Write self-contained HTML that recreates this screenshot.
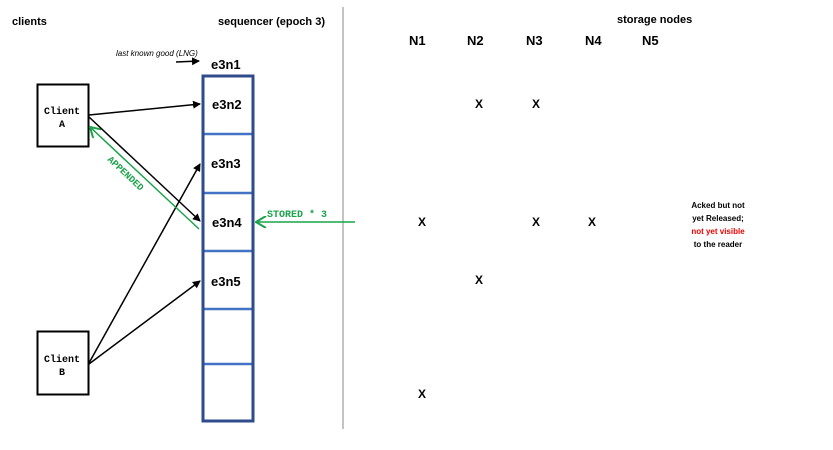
<!DOCTYPE html>
<html><head><meta charset="utf-8"><style>
html,body{margin:0;padding:0;background:#fff;width:833px;height:450px;overflow:hidden}
svg{display:block}
.s{font-family:"Liberation Sans",sans-serif;font-weight:bold}
.m{font-family:"Liberation Mono",monospace;font-weight:bold}
</style></head><body>
<svg width="833" height="450" viewBox="0 0 833 450">
<defs>
<marker id="ak" markerWidth="8" markerHeight="8" refX="7" refY="4" orient="auto" markerUnits="userSpaceOnUse"><path d="M0,0 L8,4 L0,8 z" fill="#000"/></marker>
<marker id="ag" markerWidth="12" markerHeight="12" refX="11" refY="6" orient="auto" markerUnits="userSpaceOnUse"><path d="M1,0 L11,6 L1,12" fill="none" stroke="#1aa34a" stroke-width="2"/></marker>
</defs>
<text x="12" y="25" class="s" font-size="11">clients</text>
<text x="218" y="25" class="s" font-size="11">sequencer (epoch 3)</text>
<text x="617" y="23" class="s" font-size="11">storage nodes</text>
<line x1="343" y1="7" x2="343" y2="429" stroke="#888" stroke-width="1"/>
<text x="116" y="56" font-family="Liberation Sans,sans-serif" font-style="italic" font-size="8">last known good (LNG)</text>
<line x1="176" y1="62" x2="199" y2="61" stroke="#000" stroke-width="1.5" marker-end="url(#ak)"/>
<text x="211" y="69" class="s" font-size="13">e3n1</text>
<g stroke="#4472c4" stroke-width="2.5">
<line x1="203" y1="134" x2="253" y2="134"/><line x1="203" y1="193" x2="253" y2="193"/>
<line x1="203" y1="251" x2="253" y2="251"/><line x1="203" y1="309" x2="253" y2="309"/>
<line x1="203" y1="364" x2="253" y2="364"/>
</g>
<rect x="203" y="76" width="50" height="345" fill="none" stroke="#2f4b8c" stroke-width="3"/>
<g class="s" font-size="13">
<text x="212" y="109">e3n2</text><text x="211" y="168">e3n3</text>
<text x="212" y="227">e3n4</text><text x="211" y="286">e3n5</text>
</g>
<rect x="37.5" y="84.5" width="51" height="62" fill="#fff" stroke="#000" stroke-width="2"/>
<text x="62" y="114" class="m" font-size="10" text-anchor="middle">Client</text>
<text x="62" y="127" class="m" font-size="10" text-anchor="middle">A</text>
<rect x="37.5" y="331.5" width="51" height="63" fill="#fff" stroke="#000" stroke-width="2"/>
<text x="62" y="362" class="m" font-size="10" text-anchor="middle">Client</text>
<text x="62" y="375" class="m" font-size="10" text-anchor="middle">B</text>
<g stroke="#000" stroke-width="1.5">
<line x1="89" y1="115" x2="200" y2="104" marker-end="url(#ak)"/>
<line x1="89" y1="117" x2="200" y2="221" marker-end="url(#ak)"/>
<line x1="89" y1="363" x2="200" y2="164" marker-end="url(#ak)"/>
<line x1="89" y1="364" x2="200" y2="281" marker-end="url(#ak)"/>
</g>
<line x1="199" y1="229" x2="90" y2="127" stroke="#1aa34a" stroke-width="1.5" marker-end="url(#ag)"/>
<text transform="translate(107,160) rotate(43)" class="m" font-size="9.5" fill="#1aa34a">APPENDED</text>
<line x1="355" y1="222" x2="256" y2="222" stroke="#1aa34a" stroke-width="1.5" marker-end="url(#ag)"/>
<text x="267" y="217" class="m" font-size="10" fill="#1aa34a">STORED * 3</text>
<g class="s" font-size="13">
<text x="409" y="45">N1</text><text x="467" y="45">N2</text><text x="526" y="45">N3</text>
<text x="585" y="45">N4</text><text x="642" y="45">N5</text>
</g>
<g class="s" font-size="12" text-anchor="middle">
<text x="479" y="108">X</text><text x="536" y="108">X</text>
<text x="422" y="226">X</text><text x="536" y="226">X</text><text x="592" y="226">X</text>
<text x="479" y="284">X</text>
<text x="422" y="398">X</text>
</g>
<g class="s" font-size="8" text-anchor="middle">
<text x="718" y="208">Acked but not</text>
<text x="718" y="221">yet Released;</text>
<text x="718" y="234" fill="#e00">not yet visible</text>
<text x="718" y="247">to the reader</text>
</g>
</svg>
</body></html>
